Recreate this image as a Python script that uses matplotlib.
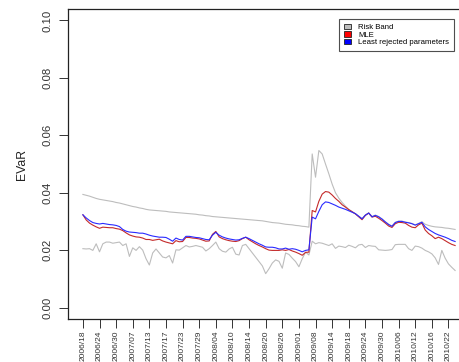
import numpy as np
import matplotlib
matplotlib.use("Agg")
import matplotlib.pyplot as plt
from matplotlib.patches import Patch

plt.rcParams['font.family'] = ['Liberation Sans', 'DejaVu Sans']

# weekly EVaR estimates
upper_band = [
    0.0394, 0.0391, 0.0388, 0.0384, 0.0380, 0.0377, 0.0375, 0.0373, 0.0371, 0.0369,
    0.0366, 0.0364, 0.0361, 0.0358, 0.0355, 0.0352, 0.0350, 0.0347, 0.0345, 0.0342,
    0.0340, 0.0339, 0.0338, 0.0337, 0.0336, 0.0335, 0.0333, 0.0332, 0.0331, 0.0330,
    0.0329, 0.0328, 0.0327, 0.0326, 0.0325, 0.0323, 0.0322, 0.0320, 0.0319, 0.0317,
    0.0316, 0.0315, 0.0314, 0.0313, 0.0312, 0.0311, 0.0310, 0.0309, 0.0308, 0.0307,
    0.0306, 0.0305, 0.0304, 0.0303, 0.0302, 0.0300, 0.0298, 0.0296, 0.0295, 0.0294,
    0.0292, 0.0290, 0.0289, 0.0288, 0.0286, 0.0285, 0.0283, 0.0282, 0.0280, 0.0535,
    0.0454, 0.0547, 0.0535, 0.0500, 0.0466, 0.0430, 0.0400, 0.0381, 0.0366, 0.0353,
    0.0342, 0.0334, 0.0327, 0.0318, 0.0310, 0.0322, 0.0330, 0.0317, 0.0322, 0.0317,
    0.0309, 0.0299, 0.0290, 0.0284, 0.0297, 0.0301, 0.0301, 0.0298, 0.0296, 0.0293,
    0.0288, 0.0293, 0.0299, 0.0290, 0.0286, 0.0283, 0.0281, 0.0280, 0.0279, 0.0277,
    0.0276, 0.0274, 0.0272,
]
lower_band = [
    0.0205, 0.0204, 0.0205, 0.0199, 0.0222, 0.0194, 0.0222, 0.0228, 0.0228, 0.0224,
    0.0226, 0.0228, 0.0216, 0.0222, 0.0178, 0.0208, 0.0199, 0.0212, 0.0200, 0.0170,
    0.0148, 0.0190, 0.0204, 0.0190, 0.0176, 0.0173, 0.0181, 0.0155, 0.0201, 0.0200,
    0.0208, 0.0216, 0.0211, 0.0213, 0.0216, 0.0213, 0.0210, 0.0197, 0.0205, 0.0216,
    0.0228, 0.0205, 0.0196, 0.0193, 0.0204, 0.0210, 0.0186, 0.0183, 0.0216, 0.0220,
    0.0205, 0.0190, 0.0175, 0.0160, 0.0145, 0.0118, 0.0135, 0.0155, 0.0166, 0.0161,
    0.0137, 0.0190, 0.0185, 0.0172, 0.0160, 0.0142, 0.0170, 0.0193, 0.0183, 0.0231,
    0.0222, 0.0226, 0.0224, 0.0220, 0.0216, 0.0222, 0.0206, 0.0214, 0.0212, 0.0209,
    0.0217, 0.0213, 0.0208, 0.0218, 0.0220, 0.0209, 0.0216, 0.0214, 0.0213, 0.0201,
    0.0200, 0.0199, 0.0200, 0.0202, 0.0219, 0.0220, 0.0220, 0.0220, 0.0205, 0.0199,
    0.0214, 0.0212, 0.0207, 0.0199, 0.0194, 0.0187, 0.0173, 0.0150, 0.0199, 0.0172,
    0.0152, 0.0140, 0.0129,
]
mle = [
    0.0323, 0.0305, 0.0294, 0.0287, 0.0281, 0.0276, 0.0280, 0.0279, 0.0278, 0.0278,
    0.0275, 0.0273, 0.0268, 0.0260, 0.0253, 0.0249, 0.0246, 0.0245, 0.0242, 0.0237,
    0.0237, 0.0234, 0.0236, 0.0238, 0.0232, 0.0228, 0.0225, 0.0222, 0.0233, 0.0229,
    0.0230, 0.0244, 0.0244, 0.0242, 0.0241, 0.0239, 0.0235, 0.0231, 0.0232, 0.0255,
    0.0265, 0.0246, 0.0240, 0.0236, 0.0233, 0.0231, 0.0230, 0.0233, 0.0240, 0.0245,
    0.0236, 0.0229, 0.0222, 0.0216, 0.0211, 0.0205, 0.0200, 0.0199, 0.0199, 0.0199,
    0.0201, 0.0199, 0.0202, 0.0197, 0.0193, 0.0188, 0.0182, 0.0192, 0.0193, 0.0338,
    0.0333, 0.0370, 0.0395, 0.0404, 0.0402, 0.0392, 0.0380, 0.0370, 0.0358, 0.0350,
    0.0341, 0.0334, 0.0326, 0.0316, 0.0306, 0.0321, 0.0329, 0.0315, 0.0318, 0.0311,
    0.0303, 0.0294, 0.0284, 0.0279, 0.0292, 0.0297, 0.0296, 0.0294, 0.0286, 0.0280,
    0.0278, 0.0288, 0.0294, 0.0270, 0.0258, 0.0250, 0.0240, 0.0245, 0.0240, 0.0233,
    0.0226, 0.0220, 0.0216,
]
least_rejected = [
    0.0323, 0.0312, 0.0303, 0.0296, 0.0293, 0.0291, 0.0293, 0.0291, 0.0289, 0.0288,
    0.0286, 0.0282, 0.0272, 0.0266, 0.0263, 0.0262, 0.0261, 0.0259, 0.0259, 0.0256,
    0.0252, 0.0249, 0.0247, 0.0245, 0.0245, 0.0244, 0.0238, 0.0231, 0.0242, 0.0237,
    0.0235, 0.0248, 0.0248, 0.0246, 0.0244, 0.0243, 0.0240, 0.0237, 0.0236, 0.0252,
    0.0262, 0.0252, 0.0246, 0.0242, 0.0239, 0.0237, 0.0235, 0.0236, 0.0241, 0.0245,
    0.0240, 0.0234, 0.0228, 0.0222, 0.0217, 0.0211, 0.0210, 0.0210, 0.0208, 0.0204,
    0.0204, 0.0207, 0.0203, 0.0205, 0.0203, 0.0199, 0.0194, 0.0199, 0.0201, 0.0315,
    0.0309, 0.0335, 0.0358, 0.0368, 0.0366, 0.0361, 0.0356, 0.0350, 0.0346, 0.0342,
    0.0337, 0.0332, 0.0327, 0.0318, 0.0309, 0.0322, 0.0329, 0.0316, 0.0321, 0.0316,
    0.0308, 0.0298, 0.0289, 0.0283, 0.0296, 0.0300, 0.0300, 0.0297, 0.0295, 0.0292,
    0.0287, 0.0292, 0.0297, 0.0281, 0.0272, 0.0265, 0.0258, 0.0253, 0.0249, 0.0245,
    0.0240, 0.0234, 0.0230,
]
tick_labels = [
    "2006/18", "2006/24", "2006/30", "2007/07", "2007/13", "2007/17", "2007/23",
    "2007/29", "2008/04", "2008/10", "2008/14", "2008/20", "2008/26", "2009/01",
    "2009/08", "2009/14", "2009/18", "2009/24", "2009/30", "2010/06", "2010/12",
    "2010/16", "2010/22",
]
tick_step = 5

x = np.arange(len(mle))
ticks = np.arange(len(tick_labels)) * tick_step

fig = plt.figure(figsize=(4.6, 3.62), dpi=100)
# frame runs past the right edge of the figure
ax = fig.add_axes([68 / 460, 43 / 362, 402 / 460, 310 / 362])

band_col = "#bdbdbd"
ax.plot(x, upper_band, color=band_col, lw=0.8)
ax.plot(x, lower_band, color=band_col, lw=0.8)
ax.plot(x, mle, color="#c42a2a", lw=0.8)
ax.plot(x, least_rejected, color="#2a2aff", lw=0.8)

pad = 0.04 * (len(x) - 1)
ax.set_xlim(-pad, len(x) - 1 + pad)
ax.set_ylim(-0.004, 0.104)

ax.set_yticks([0.0, 0.02, 0.04, 0.06, 0.08, 0.10])
ax.set_yticklabels(["0.00", "0.02", "0.04", "0.06", "0.08", "0.10"],
                   rotation=90, va="center", fontsize=8.2, color="#333333")
ax.set_xticks(ticks)
ax.set_xticklabels(tick_labels, rotation=90, fontsize=6.0, color="#333333")
ax.tick_params(axis="both", direction="out", length=6.5, width=0.7, color="#333333")
ax.tick_params(axis="y", pad=5)
ax.tick_params(axis="x", pad=2)
ax.set_ylabel("EVaR", fontsize=8.8, labelpad=10, color="#222222")

for side in ax.spines.values():
    side.set_linewidth(0.9)
    side.set_color("#222222")

handles = [
    Patch(facecolor="#bebebe", edgecolor="#222222", lw=0.6, label="Risk Band"),
    Patch(facecolor="#ff0000", edgecolor="#222222", lw=0.6, label="MLE"),
    Patch(facecolor="#0000ff", edgecolor="#222222", lw=0.6, label="Least rejected parameters"),
]
leg = ax.legend(handles=handles, loc="upper right",
                bbox_to_anchor=(454 / 460, 1 - 19 / 362),
                bbox_transform=fig.transFigure,
                fontsize=5.6, frameon=True, fancybox=False,
                handlelength=0.9, handleheight=0.65, handletextpad=1.0,
                labelspacing=0.05, borderpad=0.6, borderaxespad=0)
leg.get_frame().set_edgecolor("#222222")
leg.get_frame().set_linewidth(0.8)

fig.savefig("out.png", dpi=100)
